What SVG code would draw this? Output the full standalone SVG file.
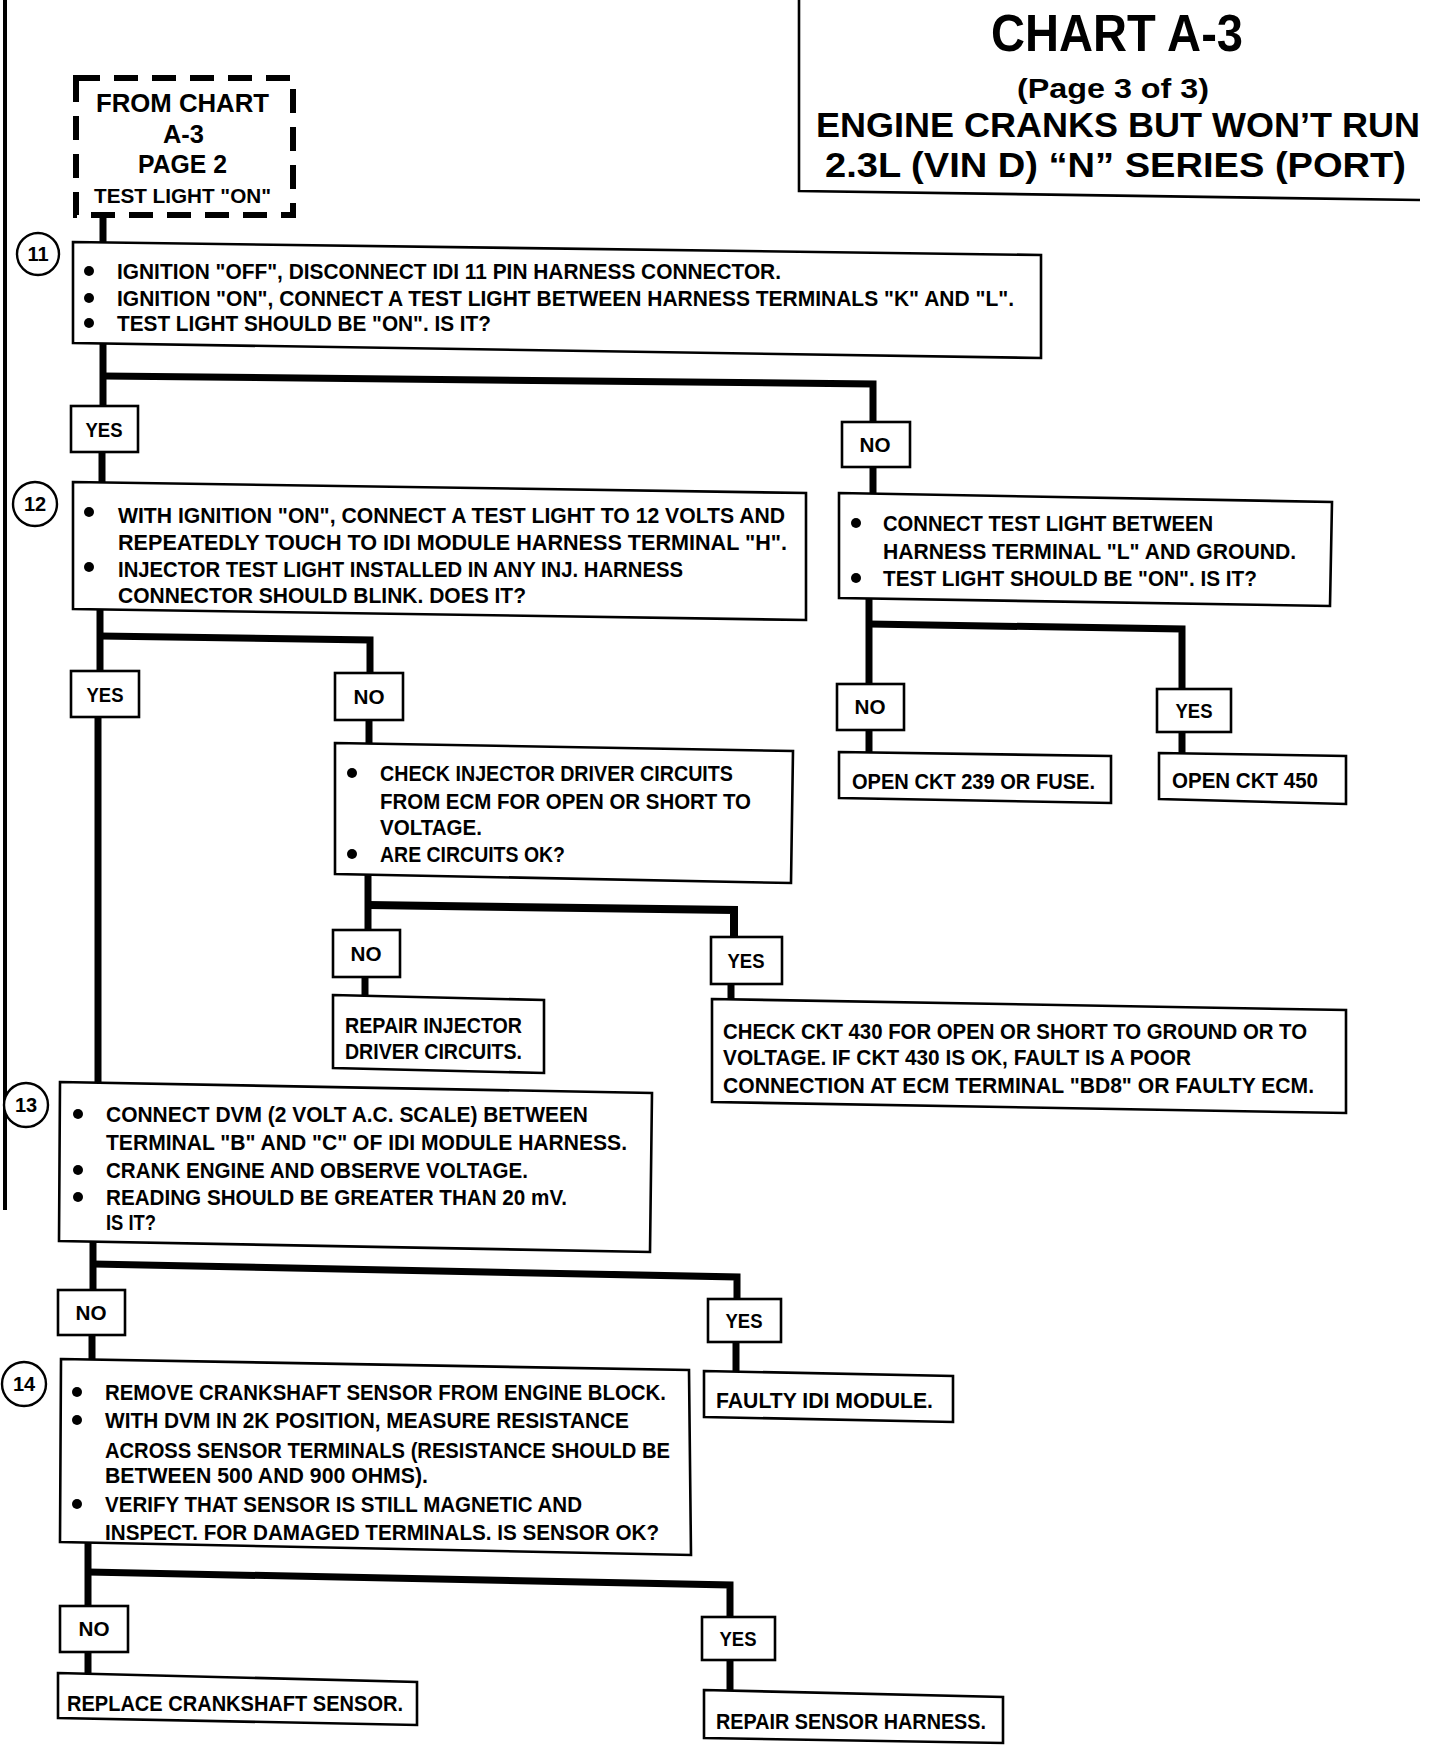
<svg xmlns="http://www.w3.org/2000/svg" width="1440" height="1746" viewBox="0 0 1440 1746">
<style>
text{font-family:"Liberation Sans",Arial,sans-serif;font-weight:bold;fill:#000}
.t{font-size:22px}
.lb{font-size:21px;text-anchor:middle}
.num{font-size:20px;text-anchor:middle}
.box{fill:#fff;stroke:#000;stroke-width:2.6}
.lbox{fill:#fff;stroke:#000;stroke-width:2.6}
.ring{fill:#fff;stroke:#000;stroke-width:2.4}
.conn{fill:none;stroke:#000;stroke-width:7;stroke-linejoin:miter;stroke-linecap:butt}
.frame{fill:none;stroke:#000;stroke-width:2.6}
.dot{fill:#000}
</style>
<rect width="1440" height="1746" fill="#fff"/>

<g id="frame">
<line x1="5" y1="0" x2="5" y2="1210" stroke="#000" stroke-width="4"/>
<polyline class="frame" points="799,0 799,191 1420,200"/>
</g>

<g id="connectors">
<polyline class="conn" points="103,216 103,244"/>
<polyline class="conn" points="103,343 103,408"/>
<polyline class="conn" points="103,376 873,384 873,424"/>
<polyline class="conn" points="102,452 102,484"/>
<polyline class="conn" points="873,467 873,497"/>
<polyline class="conn" points="869,599 869,686"/>
<polyline class="conn" points="869,624 1182,629 1182,691"/>
<polyline class="conn" points="869,730 869,754"/>
<polyline class="conn" points="1182,732 1182,755"/>
<polyline class="conn" points="100,609 100,672"/>
<polyline class="conn" points="100,636 370,640 370,675"/>
<polyline class="conn" points="98,717 98,1084"/>
<polyline class="conn" points="369,720 369,745"/>
<polyline class="conn" points="368,874 368,932"/>
<polyline class="conn" points="368,905 734,910 734,939" style="stroke-width:8"/>
<polyline class="conn" points="365,977 365,997"/>
<polyline class="conn" points="731,984 731,1001"/>
<polyline class="conn" points="93,1241 93,1292"/>
<polyline class="conn" points="93,1264 737,1277 737,1301"/>
<polyline class="conn" points="92,1335 92,1361"/>
<polyline class="conn" points="736,1342 736,1373"/>
<polyline class="conn" points="88,1542 88,1608"/>
<polyline class="conn" points="88,1572 730,1585 730,1619"/>
<polyline class="conn" points="88,1652 88,1675"/>
<polyline class="conn" points="730,1660 730,1692"/>
</g>

<g id="title">
<text x="991" y="51" style="font-size:52px" textLength="252" lengthAdjust="spacingAndGlyphs">CHART A-3</text>
<text x="1017" y="98" style="font-size:28px" textLength="192" lengthAdjust="spacingAndGlyphs">(Page 3 of 3)</text>
<text x="816" y="137" style="font-size:35px" textLength="604" lengthAdjust="spacingAndGlyphs">ENGINE CRANKS BUT WON’T RUN</text>
<text x="825" y="177" style="font-size:35px" textLength="581" lengthAdjust="spacingAndGlyphs">2.3L (VIN D) “N” SERIES (PORT)</text>
</g>

<g id="start">
<rect x="76" y="78" width="217" height="137" fill="#fff" stroke="#000" stroke-width="6" stroke-dasharray="24 14"/>
<text x="96" y="112" style="font-size:26px" textLength="173" lengthAdjust="spacingAndGlyphs">FROM CHART</text>
<text x="163" y="143" style="font-size:26px" textLength="41" lengthAdjust="spacingAndGlyphs">A-3</text>
<text x="138" y="173" style="font-size:26px" textLength="89" lengthAdjust="spacingAndGlyphs">PAGE 2</text>
<text x="94" y="203" style="font-size:20px" textLength="177" lengthAdjust="spacingAndGlyphs">TEST LIGHT "ON"</text>
</g>

<g id="step11">
<circle class="ring" cx="38" cy="254" r="21"/>
<text class="num" x="38" y="261">11</text>
<polygon class="box" points="73,242 1041,255 1041,358 73,343"/>
<circle class="dot" cx="89" cy="271" r="5"/>
<circle class="dot" cx="89" cy="298" r="5"/>
<circle class="dot" cx="89" cy="323" r="5"/>
<text class="t" x="117" y="279" textLength="664" lengthAdjust="spacingAndGlyphs">IGNITION "OFF", DISCONNECT IDI 11 PIN HARNESS CONNECTOR.</text>
<text class="t" x="117" y="306" textLength="897" lengthAdjust="spacingAndGlyphs">IGNITION "ON", CONNECT A TEST LIGHT BETWEEN HARNESS TERMINALS "K" AND "L".</text>
<text class="t" x="117" y="331" textLength="374" lengthAdjust="spacingAndGlyphs">TEST LIGHT SHOULD BE "ON". IS IT?</text>
</g>

<g id="yes11">
<rect class="lbox" x="71" y="406" width="67" height="46"/>
<text class="lb" x="104" y="437" textLength="37" lengthAdjust="spacingAndGlyphs">YES</text>
</g>
<g id="no11">
<rect class="lbox" x="842" y="422" width="68" height="45"/>
<text class="lb" x="875" y="452" textLength="31" lengthAdjust="spacingAndGlyphs">NO</text>
</g>

<g id="step12">
<circle class="ring" cx="35" cy="504" r="22"/>
<text class="num" x="35" y="511">12</text>
<polygon class="box" points="73,482 806,493 806,620 73,609"/>
<circle class="dot" cx="89" cy="512" r="5"/>
<circle class="dot" cx="89" cy="567" r="5"/>
<text class="t" x="118" y="523" textLength="667" lengthAdjust="spacingAndGlyphs">WITH IGNITION "ON", CONNECT A TEST LIGHT TO 12 VOLTS AND</text>
<text class="t" x="118" y="550" textLength="669" lengthAdjust="spacingAndGlyphs">REPEATEDLY TOUCH TO IDI MODULE HARNESS TERMINAL "H".</text>
<text class="t" x="118" y="577" textLength="565" lengthAdjust="spacingAndGlyphs">INJECTOR TEST LIGHT INSTALLED IN ANY INJ. HARNESS</text>
<text class="t" x="118" y="603" textLength="408" lengthAdjust="spacingAndGlyphs">CONNECTOR SHOULD BLINK. DOES IT?</text>
</g>

<g id="groundtest">
<polygon class="box" points="839,493 1332,502 1330,606 839,598"/>
<circle class="dot" cx="856" cy="523" r="5"/>
<circle class="dot" cx="856" cy="578" r="5"/>
<text class="t" x="883" y="531" textLength="330" lengthAdjust="spacingAndGlyphs">CONNECT TEST LIGHT BETWEEN</text>
<text class="t" x="883" y="559" textLength="413" lengthAdjust="spacingAndGlyphs">HARNESS TERMINAL "L" AND GROUND.</text>
<text class="t" x="883" y="586" textLength="374" lengthAdjust="spacingAndGlyphs">TEST LIGHT SHOULD BE "ON". IS IT?</text>
</g>

<g id="no-ground">
<rect class="lbox" x="837" y="684" width="67" height="46"/>
<text class="lb" x="870" y="714" textLength="31" lengthAdjust="spacingAndGlyphs">NO</text>
</g>
<g id="yes-ground">
<rect class="lbox" x="1157" y="689" width="74" height="43"/>
<text class="lb" x="1194" y="718" textLength="37" lengthAdjust="spacingAndGlyphs">YES</text>
</g>
<g id="ckt239">
<polygon class="box" points="839,752 1111,756 1111,803 839,798"/>
<text class="t" x="852" y="789" textLength="243" lengthAdjust="spacingAndGlyphs">OPEN CKT 239 OR FUSE.</text>
</g>
<g id="ckt450">
<polygon class="box" points="1159,753 1346,756 1346,804 1159,799"/>
<text class="t" x="1172" y="788" textLength="146" lengthAdjust="spacingAndGlyphs">OPEN CKT 450</text>
</g>

<g id="yes12">
<rect class="lbox" x="71" y="671" width="68" height="46"/>
<text class="lb" x="105" y="702" textLength="37" lengthAdjust="spacingAndGlyphs">YES</text>
</g>
<g id="no12">
<rect class="lbox" x="335" y="673" width="68" height="47"/>
<text class="lb" x="369" y="704" textLength="31" lengthAdjust="spacingAndGlyphs">NO</text>
</g>

<g id="injdriver">
<polygon class="box" points="335,743 793,751 791,883 335,874"/>
<circle class="dot" cx="352" cy="773" r="5"/>
<circle class="dot" cx="352" cy="854" r="5"/>
<text class="t" x="380" y="781" textLength="353" lengthAdjust="spacingAndGlyphs">CHECK INJECTOR DRIVER CIRCUITS</text>
<text class="t" x="380" y="809" textLength="371" lengthAdjust="spacingAndGlyphs">FROM ECM FOR OPEN OR SHORT TO</text>
<text class="t" x="380" y="835" textLength="102" lengthAdjust="spacingAndGlyphs">VOLTAGE.</text>
<text class="t" x="380" y="862" textLength="185" lengthAdjust="spacingAndGlyphs">ARE CIRCUITS OK?</text>
</g>

<g id="no-inj">
<rect class="lbox" x="333" y="930" width="67" height="47"/>
<text class="lb" x="366" y="961" textLength="31" lengthAdjust="spacingAndGlyphs">NO</text>
</g>
<g id="yes-inj">
<rect class="lbox" x="711" y="937" width="71" height="47"/>
<text class="lb" x="746" y="968" textLength="37" lengthAdjust="spacingAndGlyphs">YES</text>
</g>
<g id="repairinj">
<polygon class="box" points="333,995 544,1000 544,1073 333,1068"/>
<text class="t" x="345" y="1033" textLength="177" lengthAdjust="spacingAndGlyphs">REPAIR INJECTOR</text>
<text class="t" x="345" y="1059" textLength="177" lengthAdjust="spacingAndGlyphs">DRIVER CIRCUITS.</text>
</g>
<g id="ckt430">
<polygon class="box" points="712,999 1346,1010 1346,1113 712,1102"/>
<text class="t" x="723" y="1039" textLength="584" lengthAdjust="spacingAndGlyphs">CHECK CKT 430 FOR OPEN OR SHORT TO GROUND OR TO</text>
<text class="t" x="723" y="1065" textLength="468" lengthAdjust="spacingAndGlyphs">VOLTAGE. IF CKT 430 IS OK, FAULT IS A POOR</text>
<text class="t" x="723" y="1093" textLength="591" lengthAdjust="spacingAndGlyphs">CONNECTION AT ECM TERMINAL "BD8" OR FAULTY ECM.</text>
</g>

<g id="step13">
<circle class="ring" cx="26" cy="1105" r="22"/>
<text class="num" x="26" y="1112">13</text>
<polygon class="box" points="60,1082 652,1093 650,1252 59,1241"/>
<circle class="dot" cx="78" cy="1114" r="5"/>
<circle class="dot" cx="78" cy="1170" r="5"/>
<circle class="dot" cx="78" cy="1197" r="5"/>
<text class="t" x="106" y="1122" textLength="482" lengthAdjust="spacingAndGlyphs">CONNECT DVM (2 VOLT A.C. SCALE) BETWEEN</text>
<text class="t" x="106" y="1150" textLength="521" lengthAdjust="spacingAndGlyphs">TERMINAL "B" AND "C" OF IDI MODULE HARNESS.</text>
<text class="t" x="106" y="1178" textLength="422" lengthAdjust="spacingAndGlyphs">CRANK ENGINE AND OBSERVE VOLTAGE.</text>
<text class="t" x="106" y="1205" textLength="461" lengthAdjust="spacingAndGlyphs">READING SHOULD BE GREATER THAN 20 mV.</text>
<text class="t" x="106" y="1230" textLength="50" lengthAdjust="spacingAndGlyphs">IS IT?</text>
</g>

<g id="no13">
<rect class="lbox" x="58" y="1290" width="67" height="45"/>
<text class="lb" x="91" y="1320" textLength="31" lengthAdjust="spacingAndGlyphs">NO</text>
</g>
<g id="yes13">
<rect class="lbox" x="708" y="1299" width="73" height="43"/>
<text class="lb" x="744" y="1328" textLength="37" lengthAdjust="spacingAndGlyphs">YES</text>
</g>
<g id="faultyidi">
<polygon class="box" points="704,1371 953,1376 953,1422 704,1417"/>
<text class="t" x="716" y="1408" textLength="217" lengthAdjust="spacingAndGlyphs">FAULTY IDI MODULE.</text>
</g>

<g id="step14">
<circle class="ring" cx="24" cy="1384" r="22"/>
<text class="num" x="24" y="1391">14</text>
<polygon class="box" points="61,1359 689,1370 691,1555 60,1542"/>
<circle class="dot" cx="77" cy="1392" r="5"/>
<circle class="dot" cx="77" cy="1420" r="5"/>
<circle class="dot" cx="77" cy="1504" r="5"/>
<text class="t" x="105" y="1400" textLength="561" lengthAdjust="spacingAndGlyphs">REMOVE CRANKSHAFT SENSOR FROM ENGINE BLOCK.</text>
<text class="t" x="105" y="1428" textLength="524" lengthAdjust="spacingAndGlyphs">WITH DVM IN 2K POSITION, MEASURE RESISTANCE</text>
<text class="t" x="105" y="1458" textLength="565" lengthAdjust="spacingAndGlyphs">ACROSS SENSOR TERMINALS (RESISTANCE SHOULD BE</text>
<text class="t" x="105" y="1483" textLength="323" lengthAdjust="spacingAndGlyphs">BETWEEN 500 AND 900 OHMS).</text>
<text class="t" x="105" y="1512" textLength="477" lengthAdjust="spacingAndGlyphs">VERIFY THAT SENSOR IS STILL MAGNETIC AND</text>
<text class="t" x="105" y="1540" textLength="554" lengthAdjust="spacingAndGlyphs">INSPECT. FOR DAMAGED TERMINALS. IS SENSOR OK?</text>
</g>

<g id="no14">
<rect class="lbox" x="60" y="1606" width="68" height="46"/>
<text class="lb" x="94" y="1636" textLength="31" lengthAdjust="spacingAndGlyphs">NO</text>
</g>
<g id="yes14">
<rect class="lbox" x="702" y="1617" width="73" height="43"/>
<text class="lb" x="738" y="1646" textLength="37" lengthAdjust="spacingAndGlyphs">YES</text>
</g>
<g id="replacesensor">
<polygon class="box" points="58,1673 417,1682 417,1725 58,1718"/>
<text class="t" x="67" y="1711" textLength="336" lengthAdjust="spacingAndGlyphs">REPLACE CRANKSHAFT SENSOR.</text>
</g>
<g id="repairharness">
<polygon class="box" points="704,1690 1003,1697 1003,1743 704,1738"/>
<text class="t" x="716" y="1729" textLength="270" lengthAdjust="spacingAndGlyphs">REPAIR SENSOR HARNESS.</text>
</g>
</svg>
